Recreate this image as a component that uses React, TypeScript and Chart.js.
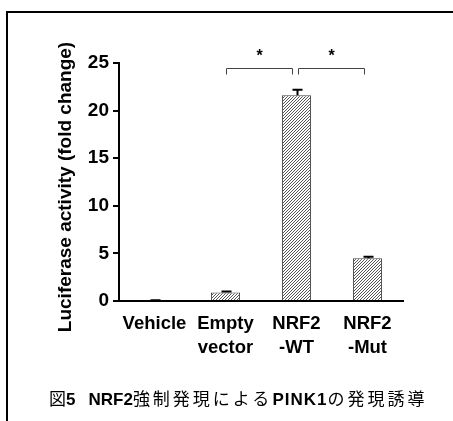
import React, { useEffect, useRef } from "react";
import { Chart, registerables } from "chart.js";

Chart.register(...registerables);

const categories: string[][] = [["Vehicle"], ["Empty", "vector"], ["NRF2", "-WT"], ["NRF2", "-Mut"]];
const values: number[] = [0, 0.9, 21.6, 4.5];
const errors: number[] = [0.08, 0.1, 0.6, 0.14];
const yTicks: number[] = [0, 5, 10, 15, 20, 25];
const yTitle = "Luciferase activity (fold change)";
const brackets: { from: number; to: number; label: string }[] = [
  { from: 1, to: 2, label: "*" },
  { from: 2, to: 3, label: "*" },
];
const bracketLevel = 24.5;

function makeHatch(): CanvasPattern | string {
  const c = document.createElement("canvas");
  const s = 3;
  c.width = s;
  c.height = s;
  const g = c.getContext("2d");
  if (!g) return "#999";
  g.fillStyle = "#ffffff";
  g.fillRect(0, 0, s, s);
  g.fillStyle = "#555555";
  for (let i = 0; i < s; i++) {
    g.fillRect(s - 1 - i, i, 1, 1);
  }
  const p = g.createPattern(c, "repeat");
  return p || "#999";
}

const FONT = "'Liberation Sans', Arial, sans-serif";
const CJK = "'Noto Sans CJK JP', sans-serif";

export default function App() {
  const ref = useRef<HTMLCanvasElement | null>(null);
  useEffect(() => {
    if (!ref.current) return;
    const overlay = {
      id: "overlay",
      afterDatasetsDraw(chart: any) {
        const ctx = chart.ctx;
        const xs = chart.scales.x;
        const ys = chart.scales.y;
        ctx.save();
        ctx.strokeStyle = "#000";
        ctx.lineWidth = 2;
        values.forEach((v, i) => {
          const x = Math.round(xs.getPixelForValue(i)) + 0.5;
          const y0 = ys.getPixelForValue(v);
          const y1 = ys.getPixelForValue(v + errors[i]);
          ctx.beginPath();
          ctx.moveTo(x, y0);
          ctx.lineTo(x, y1);
          ctx.moveTo(x - 5, y1);
          ctx.lineTo(x + 5, y1);
          ctx.stroke();
        });
        ctx.strokeStyle = "#444";
        ctx.lineWidth = 1;
        ctx.fillStyle = "#000";
        ctx.font = "bold 16px " + FONT;
        ctx.textAlign = "center";
        ctx.textBaseline = "middle";
        const by = Math.round(ys.getPixelForValue(bracketLevel)) + 0.5;
        brackets.forEach((b, k) => {
          const xa = Math.round(xs.getPixelForValue(b.from)) + (k === 0 ? 0.5 : 1.5);
          const xb = Math.round(xs.getPixelForValue(b.to)) - (k === 0 ? 4.5 : 3.5);
          ctx.beginPath();
          ctx.moveTo(xa, by + 6);
          ctx.lineTo(xa, by);
          ctx.lineTo(xb, by);
          ctx.lineTo(xb, by + 6);
          ctx.stroke();
          ctx.fillText(b.label, (xa + xb) / 2, by - 12);
        });
        ctx.save();
        ctx.translate(66, 187);
        ctx.rotate(-Math.PI / 2);
        ctx.font = "bold 19px " + FONT;
        ctx.fillStyle = "#000";
        ctx.fillText(yTitle, 0, 0);
        ctx.restore();
        ctx.restore();
      },
    };
    const chart = new Chart(ref.current, {
      type: "bar",
      data: {
        labels: categories,
        datasets: [
          {
            data: values,
            backgroundColor: makeHatch() as any,
            borderColor: "#444",
            borderWidth: 1,
            barPercentage: 0.41,
            categoryPercentage: 1,
          },
        ],
      },
      options: {
        animation: false,
        responsive: false,
        devicePixelRatio: 1,
        layout: { padding: { left: 0, right: 50, top: 63, bottom: 0 } },
        plugins: { legend: { display: false }, tooltip: { enabled: false } },
        scales: {
          x: {
            grid: { display: false, drawTicks: false },
            border: { display: true, color: "#000", width: 2 },
            ticks: {
              color: "#000",
              padding: 11,
              maxRotation: 0,
              autoSkip: false,
              font: { family: FONT, size: 18.5, weight: "bold", lineHeight: 1.3 },
            },
            afterFit(scale: any) {
              scale.height = 120;
            },
          },
          y: {
            min: 0,
            max: 25,
            afterBuildTicks(scale: any) {
              scale.ticks = yTicks.map((v) => ({ value: v }));
            },
            grid: { display: true, drawOnChartArea: false, drawTicks: true, tickLength: 6, lineWidth: 2, color: "#000" },
            border: { display: true, color: "#000", width: 2 },
            ticks: {
              color: "#000",
              padding: 4,
              font: { family: FONT, size: 19, weight: "bold" },
            },
            afterFit(scale: any) {
              scale.width = 119;
            },
          },
        },
      },
      plugins: [overlay],
    });
    return () => chart.destroy();
  }, []);

  const cjk = { fontFamily: CJK, letterSpacing: 3 };
  return (
    <div>
      <div
        style={{
          position: "fixed",
          left: 6,
          top: 11,
          width: 470,
          height: 430,
          border: "2px solid #000",
          boxSizing: "border-box",
        }}
      />
      <canvas ref={ref} width={453} height={421} style={{ position: "fixed", left: 0, top: 0, width: 453, height: 421 }} />
      <div
        style={{
          position: "fixed",
          left: 49,
          top: 387,
          whiteSpace: "nowrap",
          fontSize: 17,
          lineHeight: "22px",
          fontFamily: FONT,
          color: "#000",
        }}
      >
        <span style={{ fontFamily: CJK }}>図</span>
        <b>5</b>
        <span style={{ display: "inline-block", width: 13 }} />
        <b>NRF2</b>
        <span style={cjk}>強制発現による</span>
        <b style={{ letterSpacing: 1 }}>PINK1</b>
        <span style={cjk}>の発現誘導</span>
      </div>
    </div>
  );
}
